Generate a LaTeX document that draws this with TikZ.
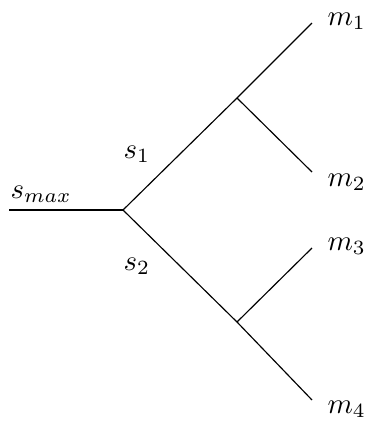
\documentclass[tikz,border=0pt]{standalone}
\begin{document}
\begin{tikzpicture}[x=0.346pt,y=-0.346pt,
  lbl/.style={anchor=base west,inner sep=0pt},
  thick line/.style={line width=0.75pt},
  thin line/.style={line width=0.4pt}]
\useasboundingbox (0,0) rectangle (368,421);
\coordinate (start) at (9,210);
\coordinate (root) at (123,210);
\coordinate (b1) at (237,98);
\coordinate (b2) at (237,322);
\coordinate (e1) at (312,23);
\coordinate (e2) at (312,172);
\coordinate (e3) at (312,248);
\coordinate (e4) at (312,400);
\draw[thick line] (start) -- (root);
\draw[thin line] (root) -- (b1) -- (e1);
\draw[thin line] (b1) -- (e2);
\draw[thin line] (root) -- (b2) -- (e4);
\draw[thin line] (b2) -- (e3);
\node[lbl] (smax) at (10,198) {$s_{max}$};
\node[lbl] (s1) at (123,158) {$s_1$};
\node[lbl] (s2) at (123,270) {$s_2$};
\node[lbl] (m1) at (327,25) {$m_1$};
\node[lbl] (m2) at (327,186) {$m_2$};
\node[lbl] (m3) at (327,250) {$m_3$};
\node[lbl] (m4) at (327,413) {$m_4$};
\end{tikzpicture}
\end{document}
